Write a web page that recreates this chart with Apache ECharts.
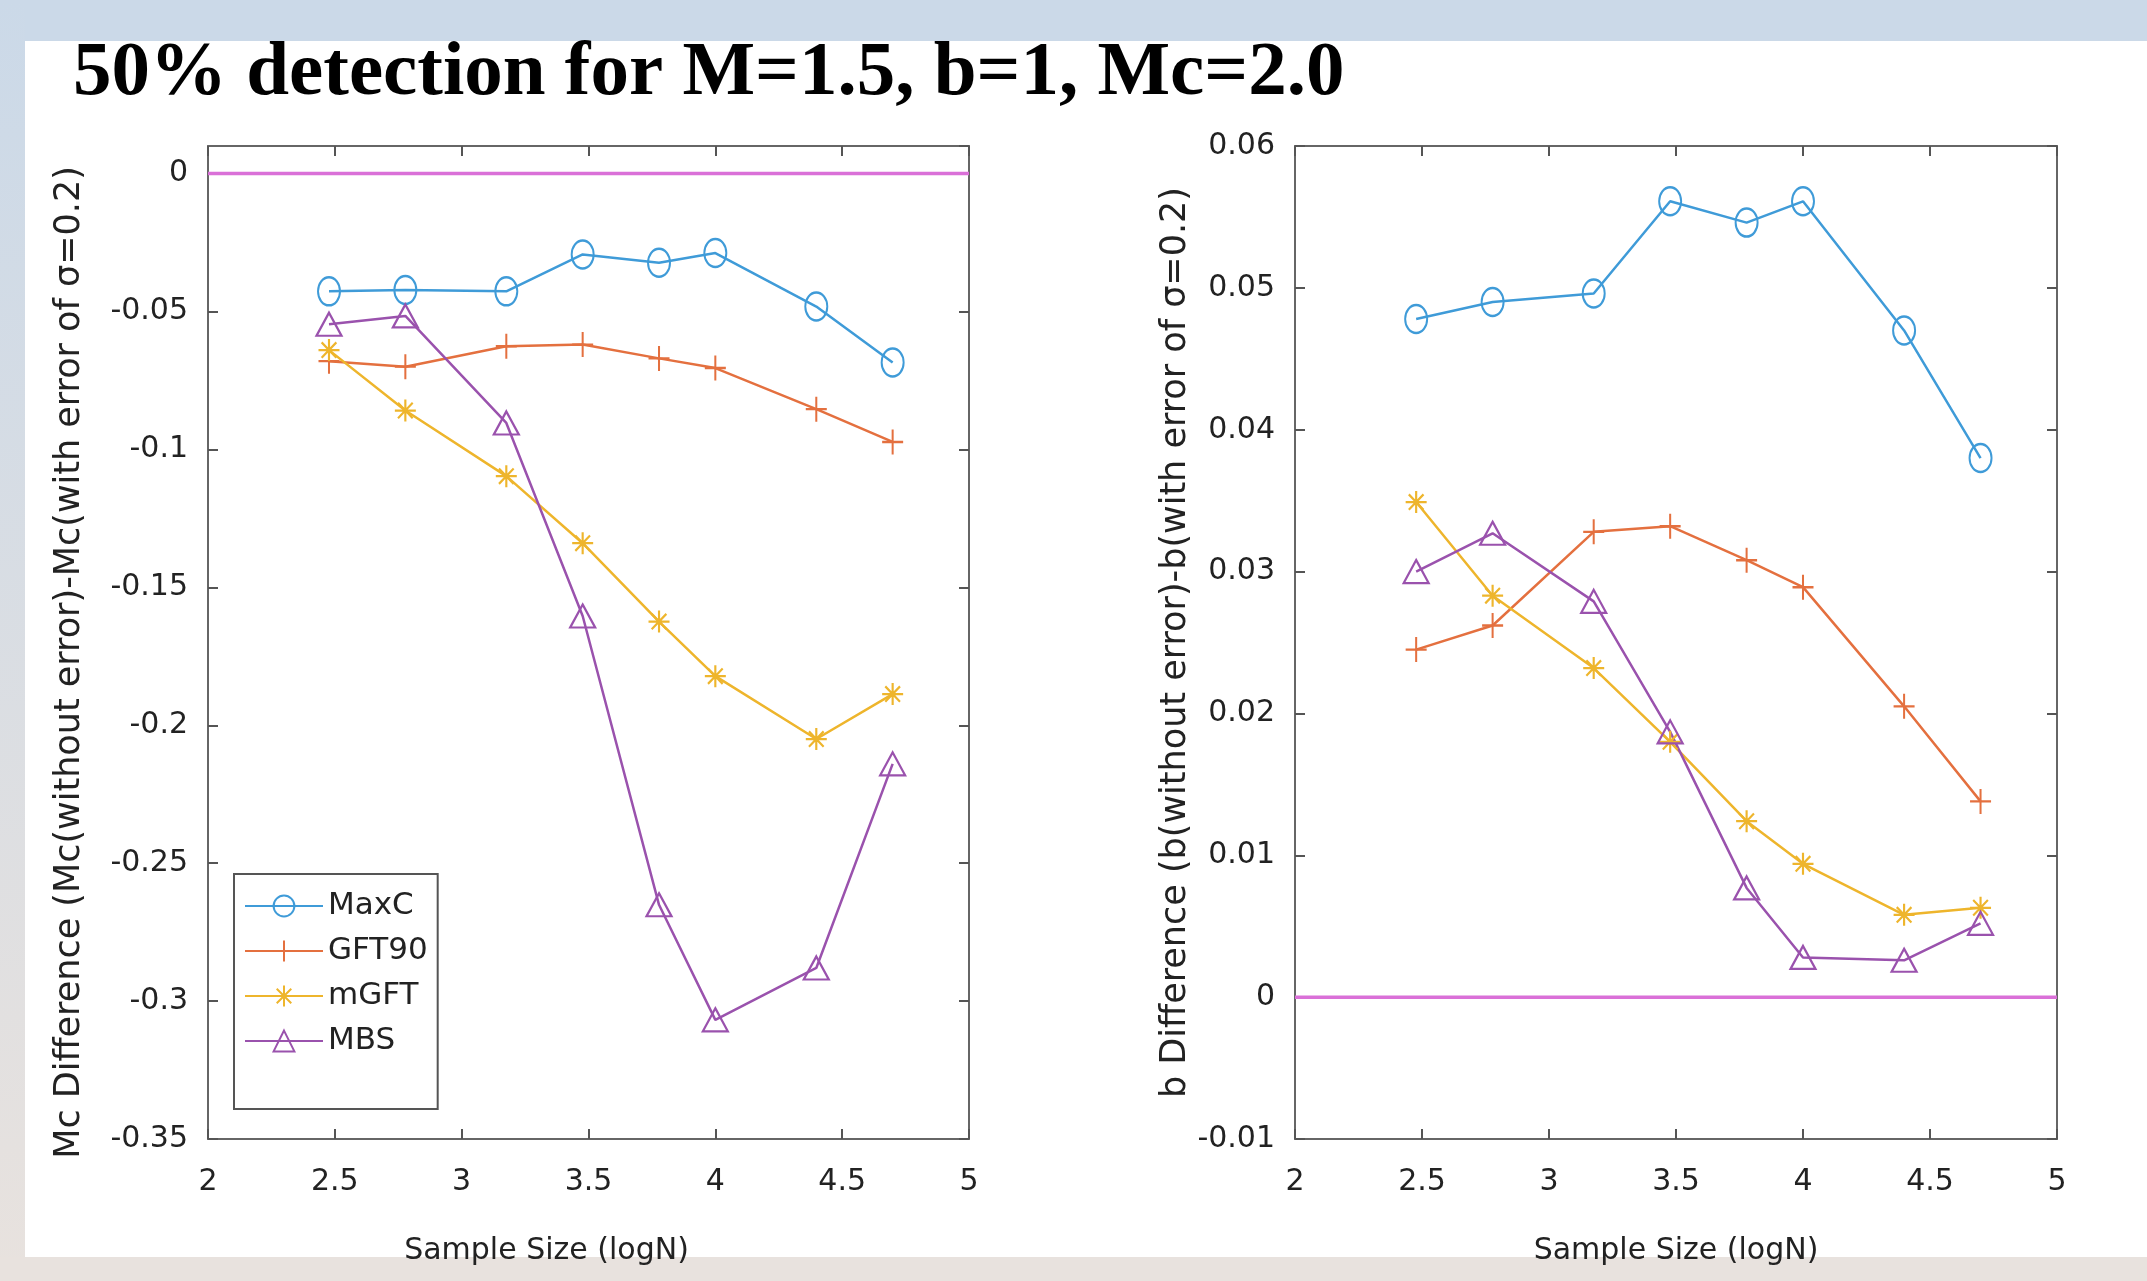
<!DOCTYPE html>
<html>
<head>
<meta charset="utf-8">
<title>50% detection</title>
<script src="https://cdn.jsdelivr.net/npm/echarts@6.0.0/dist/echarts.min.js"></script>
<style>
	html, body { margin: 0; padding: 0; }
	body { width: 2147px; height: 1281px; position: relative; overflow: hidden; background: #fff; }
	.band-top { position: absolute; left: 0; top: 0; width: 2147px; height: 41px; background: #cbd9e8; }
	.band-left { position: absolute; left: 0; top: 0; width: 25px; height: 1281px; background: linear-gradient(#cbd9e8, #e8e2de); }
	.band-bottom { position: absolute; left: 0; top: 1257px; width: 2147px; height: 24px; background: #e8e2de; }
	#main { position: absolute; left: 0; top: 0; width: 2147px; height: 1281px; }
</style>
</head>
<body>
<div class="band-top"></div>
<div class="band-left"></div>
<div class="band-bottom"></div>
<div id="main"></div>
<script>
	// sample size, log10(N)
	var logN = [2.477, 2.778, 3.176, 3.477, 3.778, 4.0, 4.398, 4.699];
	var seriesNames = ['MaxC', 'GFT90', 'mGFT', 'MBS'];

	// left: Mc difference
	var mcMaxC  = [-0.0427, -0.0422, -0.0427, -0.0293, -0.0323, -0.0288, -0.0482, -0.0685];
	var mcGFT90 = [-0.0680, -0.0700, -0.0626, -0.0620, -0.0670, -0.0705, -0.0854, -0.0973];
	var mcMGFT  = [-0.0640, -0.0859, -0.1097, -0.1340, -0.1624, -0.1822, -0.2050, -0.1887];
	var mcMBS   = [-0.0546, -0.0516, -0.0904, -0.1604, -0.2651, -0.3068, -0.2880, -0.2140];

	// right: b difference
	var bMaxC  = [0.0478, 0.0490, 0.0496, 0.0561, 0.0546, 0.0561, 0.0470, 0.0380];
	var bGFT90 = [0.0245, 0.0262, 0.0328, 0.0332, 0.0308, 0.0289, 0.0205, 0.0138];
	var bMGFT  = [0.0349, 0.0283, 0.0232, 0.0180, 0.0124, 0.0094, 0.0058, 0.0063];
	var bMBS   = [0.0300, 0.0327, 0.0279, 0.0187, 0.0077, 0.0028, 0.0026, 0.0052];

	// reference line y = 0
	var zeroX = [2, 5];
	var zeroY = [0, 0];

	// axis ranges / ticks
	var xTicks = {min: 2, max: 5, interval: 0.5};
	var mcTicks = {min: -0.35, max: 0.01, interval: 0.05};
	var bTicks = {min: -0.01, max: 0.06, interval: 0.01};

	var colors = ['#3f9bd8', '#e4703f', '#eeb52c', '#9a52ad'];
	var symbols = [
		'circle',
		'path://M0,10 L20,10 M10,0 L10,20',
		'path://M0,10 L20,10 M10,0 L10,20 M3,3 L17,17 M17,3 L3,17',
		'triangle'
	];
	var symbolSizes = [[22, 28], [21, 25], [21, 22], [25, 23]];

	var tickFont = 'DejaVu Sans';
	var axisColor = '#666';

	function pairs(xs, ys) {
		var out = [];
		for (var i = 0; i < xs.length; i++) {
			out.push([xs[i], ys[i]]);
		}
		return out;
	}

	function makeX(grid, pos, showLabel, name) {
		return {
			type: 'value',
			gridIndex: grid,
			position: pos,
			min: xTicks.min,
			max: xTicks.max,
			interval: xTicks.interval,
			name: name,
			nameLocation: 'middle',
			nameGap: 97,
			nameTextStyle: {fontFamily: tickFont, fontSize: 30, color: '#222'},
			axisLine: {show: true, onZero: false, lineStyle: {color: axisColor, width: 2}},
			axisTick: {show: true, inside: true, length: 10, lineStyle: {color: '#555', width: 2}},
			axisLabel: {show: showLabel, margin: 28, fontFamily: tickFont, fontSize: 30, color: '#222'},
			splitLine: {show: false}
		};
	}

	function makeY(grid, pos, showLabel, ticks, name, gap) {
		return {
			type: 'value',
			gridIndex: grid,
			position: pos,
			min: ticks.min,
			max: ticks.max,
			interval: ticks.interval,
			name: name,
			nameLocation: 'middle',
			nameGap: gap,
			nameRotate: 90,
			nameTextStyle: {fontFamily: tickFont, fontSize: 35, color: '#222'},
			axisLine: {show: true, onZero: false, lineStyle: {color: axisColor, width: 2}},
			axisTick: {show: true, inside: true, length: 10, lineStyle: {color: '#555', width: 2}},
			axisLabel: {show: showLabel, showMaxLabel: ticks.max !== 0.01, margin: 20, fontFamily: tickFont, fontSize: 30, color: '#222'},
			splitLine: {show: false}
		};
	}

	function dataSeries(idx, grid, values) {
		return {
			name: seriesNames[idx],
			type: 'line',
			xAxisIndex: grid * 2,
			yAxisIndex: grid * 2,
			data: pairs(logN, values),
			symbol: symbols[idx],
			symbolSize: symbolSizes[idx],
			showAllSymbol: true,
			lineStyle: {color: colors[idx], width: 2.5},
			itemStyle: {color: 'transparent', borderColor: colors[idx], borderWidth: 2.2},
			emphasis: {disabled: true},
			animation: false,
			z: 3
		};
	}

	function zeroSeries(grid) {
		return {
			type: 'line',
			xAxisIndex: grid * 2,
			yAxisIndex: grid * 2,
			data: pairs(zeroX, zeroY),
			symbol: 'none',
			silent: true,
			lineStyle: {color: '#da70d8', width: 3.5},
			animation: false,
			z: 2
		};
	}

	var option = {
		backgroundColor: 'transparent',
		animation: false,
		title: {
			text: '50% detection for M=1.5, b=1, Mc=2.0',
			left: 68,
			top: 31,
			textStyle: {fontFamily: 'Liberation Serif', fontWeight: 'bold', fontSize: 77, color: '#000'}
		},
		legend: {
			data: seriesNames,
			orient: 'vertical',
			left: 234,
			top: 874,
			itemWidth: 78,
			itemHeight: 26,
			itemGap: 13,
			padding: [16, 10, 52, 10],
			borderColor: '#555',
			borderWidth: 2,
			backgroundColor: '#fff',
			selectedMode: false,
			textStyle: {fontFamily: tickFont, fontSize: 31, color: '#222', lineHeight: 32}
		},
		grid: [
			{left: 208, top: 146, width: 761, height: 993},
			{left: 1295, top: 146, width: 762, height: 993}
		],
		xAxis: [
			makeX(0, 'bottom', true, 'Sample Size (logN)'),
			makeX(0, 'top', false, ''),
			makeX(1, 'bottom', true, 'Sample Size (logN)'),
			makeX(1, 'top', false, '')
		],
		yAxis: [
			makeY(0, 'left', true, mcTicks, 'Mc Difference (Mc(without error)-Mc(with error of σ=0.2)', 121),
			makeY(0, 'right', false, mcTicks, '', 0),
			makeY(1, 'left', true, bTicks, 'b Difference (b(without error)-b(with error of σ=0.2)', 94),
			makeY(1, 'right', false, bTicks, '', 0)
		],
		series: [
			zeroSeries(0),
			zeroSeries(1),
			dataSeries(0, 0, mcMaxC),
			dataSeries(1, 0, mcGFT90),
			dataSeries(2, 0, mcMGFT),
			dataSeries(3, 0, mcMBS),
			dataSeries(0, 1, bMaxC),
			dataSeries(1, 1, bGFT90),
			dataSeries(2, 1, bMGFT),
			dataSeries(3, 1, bMBS)
		]
	};

	// the left x-axis title sits a bit left of centre in the original
	option.xAxis[0].nameTextStyle = {fontFamily: tickFont, fontSize: 30, color: '#222', padding: [0, 84, 0, 0]};
	// and the left y-axis title sits a bit low
	option.yAxis[0].nameTextStyle = {fontFamily: tickFont, fontSize: 35, color: '#222', padding: [0, 40, 0, 0]};

	var myChart = echarts.init(document.getElementById('main'));
	myChart.setOption(option);
</script>
</body>
</html>
